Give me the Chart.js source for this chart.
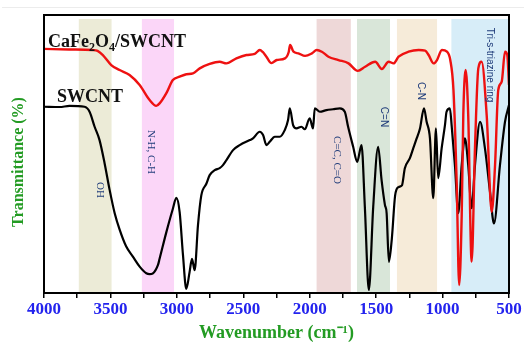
<!DOCTYPE html>
<html><head><meta charset="utf-8">
<style>html,body{margin:0;padding:0;background:#fff;overflow:hidden}canvas{display:block}</style>
<script src="https://cdn.jsdelivr.net/npm/chart.js@4.4.0/dist/chart.umd.min.js"></script>
</head><body><canvas id="c" width="524" height="345"></canvas>
<script>
// ---- data ----
const wnRed = [4000,3810,3635,3597,3557,3494,3431,3356,3280,3205,3155,3130,3079,3030,2979,2929,2879,2828,2753,2678,2627,2552,2476,2414,2376,2354,2326,2288,2248,2186,2158,2148,2122,2085,2035,1984,1947,1909,1859,1783,1708,1638,1583,1507,1457,1406,1369,1331,1256,1180,1131,1105,1067,1042,1005,967,942,918,894,875,856,844,826,807,781,756,731,706,668,630,605,581,555,530,513,500];
const tRed = [87.8,87.6,87.4,87.1,85.6,82.0,80.2,78.4,74.8,69.4,67.3,68.2,71.9,76.6,77.8,78.7,79.0,80.8,82.4,83.2,82.6,84.4,85.6,86.0,87.4,86.7,85.0,82.7,83.8,84.4,86.7,89.2,86.8,86.2,85.3,86.2,87.4,86.8,85.0,83.8,82.6,79.9,81.4,83.2,80.6,83.2,82.6,85.0,86.8,87.4,87.2,85.6,82.6,83.8,87.4,86.8,83.8,73.0,40.0,2.9,28.1,64.0,80.2,64.0,11.3,52.2,80.8,83.2,64.0,29.2,46.0,73.0,76.0,86.8,85.6,74.8];
const wnBlack = [4000,3883,3808,3695,3657,3619,3582,3544,3506,3468,3430,3381,3331,3280,3230,3205,3180,3142,3130,3079,3030,3004,2979,2954,2929,2904,2886,2866,2841,2816,2778,2753,2715,2678,2653,2627,2577,2527,2451,2427,2376,2351,2326,2301,2263,2226,2188,2163,2150,2125,2100,2062,2037,2000,1975,1962,1924,1874,1824,1773,1736,1711,1673,1643,1610,1585,1555,1522,1485,1459,1434,1421,1404,1382,1357,1331,1306,1284,1246,1221,1195,1170,1140,1120,1095,1070,1050,1033,1007,982,970,945,932,907,882,856,832,807,781,756,718,681,643,613,568,530,500];
const tBlack = [67.0,66.9,67.3,67.0,65.2,59.8,55.0,46.7,37.1,28.7,22.7,16.7,13.1,9.5,7.1,6.8,7.1,10.1,12.3,21.9,30.3,34.2,29.1,13.7,1.5,7.6,12.3,8.2,24.4,35.1,39.3,42.4,44.2,44.9,46.0,47.8,51.4,53.2,55.0,55.6,58.0,56.8,53.2,54.4,56.2,56.2,58.6,62.2,66.4,60.4,59.2,59.8,58.9,62.8,59.2,66.4,65.2,65.8,66.1,66.4,65.2,59.8,52.6,47.2,53.2,31.0,1.1,31.0,52.6,40.6,31.7,28.7,11.2,19.5,35.1,38.1,38.7,44.9,48.5,52.0,55.6,59.2,66.4,61.6,55.6,34.1,59.2,41.3,52.0,60.4,65.2,66.4,60.4,46.0,28.7,46.0,55.6,46.0,30.5,46.0,61.6,52.0,36.4,25.0,46.0,61.6,67.6];
// assignment bands (cm-1)
const bandFrom = [3740,3265,1950,1645,1345,935];
const bandTo   = [3490,3020,1690,1395,1040,505];
const bandLabels = ['OH','N-H, C-H','C=C, C=O','C=N','C-N','Tri-s-triazine ring'];
const seriesNames = ['CaFe2O4/SWCNT','SWCNT'];
const xMin = 500, xMax = 4000, xStep = 250, xLabelStep = 500;
const bandTop = 98.6;

// ---- styles ----
const bandColors = ['#ecebd7','#fbd6f8','#eed8d8','#d9e6d9','#f6ebd9','#d7edf8'];
const labelPos = [[100,190],[151,152],[337,160],[384,117],[421,91],[490,65]];
const labelSans = [false,false,false,true,true,true];
const SERIF = "'Liberation Serif','Times New Roman',serif";
const SANS = "'Liberation Sans','Noto Sans',sans-serif";

const bandSets = bandFrom.map((f,i)=>({
  data:[{x:f,y:bandTop},{x:bandTo[i],y:bandTop}],
  fill:'origin', backgroundColor:bandColors[i], borderWidth:0, pointRadius:0, order:10
}));

const deco = {
  id:'deco',
  beforeDraw(chart){
    const c = chart.ctx;
    c.save(); c.strokeStyle='#ececec'; c.lineWidth=1;
    c.beginPath(); c.moveTo(2,7.5); c.lineTo(524,7.5); c.stroke(); c.restore();
  },
  afterDraw(chart){
    const c = chart.ctx, a = chart.chartArea;
    c.save();
    c.strokeStyle='#000'; c.lineWidth=2;
    c.strokeRect(a.left, a.top, a.right-a.left, a.bottom-a.top);
    // band labels
    c.fillStyle='#1f3c7a'; c.textAlign='center'; c.textBaseline='middle';
    bandLabels.forEach((t,i)=>{
      c.save();
      c.translate(labelPos[i][0], labelPos[i][1]);
      c.rotate(Math.PI/2);
      c.font = labelSans[i] ? "10px "+SANS : "11px "+SERIF;
      c.fillText(t,0,0);
      c.restore();
    });
    // series names with subscripts
    c.fillStyle='#111'; c.textAlign='left'; c.textBaseline='alphabetic';
    const parts = [['CaFe',0],['2',1],['O',0],['4',1],['/SWCNT',0]];
    let x = 48; const y = 47;
    parts.forEach(([t,sub])=>{
      c.font = sub ? "bold 12px "+SERIF : "bold 18px "+SERIF;
      c.fillText(t, x, sub ? y+4 : y);
      x += c.measureText(t).width;
    });
    c.font = "bold 18px "+SERIF;
    c.fillText(seriesNames[1], 57, 102);
    // y title
    c.save();
    c.translate(19, 162); c.rotate(-Math.PI/2);
    c.fillStyle='#239b23'; c.font="bold 16px "+SERIF; c.textAlign='center'; c.textBaseline='middle';
    c.fillText('Transmittance (%)',0,0);
    c.restore();
    c.restore();
  }
};

new Chart(document.getElementById('c'),{
  type:'line',
  data:{datasets:[
    {label:seriesNames[0], data:wnRed.map((w,i)=>({x:w,y:tRed[i]})), borderColor:'#ee1111', borderWidth:2.4, pointRadius:0, fill:false, cubicInterpolationMode:'monotone', order:0},
    {label:seriesNames[1], data:wnBlack.map((w,i)=>({x:w,y:tBlack[i]})), borderColor:'#000', borderWidth:2.2, pointRadius:0, fill:false, cubicInterpolationMode:'monotone', order:1},
    ...bandSets
  ]},
  options:{
    responsive:false, animation:false, devicePixelRatio:1,
    layout:{padding:{top:15,right:15,left:0,bottom:0}},
    plugins:{legend:{display:false}, tooltip:{enabled:false}},
    events:[],
    scales:{
      x:{type:'linear', min:xMin, max:xMax, reverse:true,
        afterFit(s){ s.height = 52; },
        ticks:{stepSize:xStep, autoSkip:false, maxRotation:0, padding:1,
          callback:v => (v % xLabelStep === 0 ? String(v) : ''),
          color:'#2323ee', font:{family:SERIF, size:17, weight:'bold'}},
        grid:{display:true, drawOnChartArea:false, drawTicks:true, tickLength:5, color:'#000', lineWidth:1.5},
        border:{display:true, color:'#000', width:2},
        title:{display:true, text:'Wavenumber (cm\u207B\u00B9)', color:'#239b23', font:{family:SERIF, size:18, weight:'bold'}, padding:{top:0,bottom:1}}
      },
      y:{min:0, max:100,
        afterFit(s){ s.width = 44; },
        ticks:{display:false}, grid:{display:false},
        border:{display:true, color:'#000', width:2}
      }
    }
  },
  plugins:[deco]
});
</script></body></html>
